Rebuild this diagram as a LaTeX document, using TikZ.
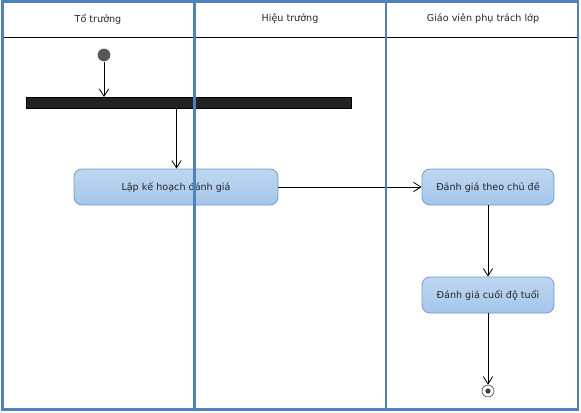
\documentclass[tikz,border=0pt]{standalone}
\usepackage{fontspec}
\setmainfont{DejaVu Sans}
\usetikzlibrary{arrows.meta}
\definecolor{lane}{RGB}{79,129,189}
\definecolor{actborder}{RGB}{109,155,208}
\definecolor{acttop}{RGB}{190,215,240}
\definecolor{actbot}{RGB}{165,198,233}
\definecolor{startc}{RGB}{88,88,88}
\definecolor{barc}{RGB}{34,34,34}
\begin{document}
\begin{tikzpicture}[x=0.75pt,y=-0.75pt,
  lanestyle/.style={draw=lane,line width=2.2pt},
  actbox/.style={draw=actborder,line width=0.6pt,rounded corners=6pt,top color=acttop,bottom color=actbot,minimum height=27pt,inner sep=0pt,font=\fontsize{7.2pt}{9pt}\selectfont,text=black!85},
  hdr/.style={font=\fontsize{7.2pt}{9pt}\selectfont,text=black!85},
  flow/.style={draw=black,line width=0.6pt,-{Straight Barb[length=5.5pt,width=7pt,line width=0.6pt]}},
  line/.style={draw=black,line width=0.6pt}]
\useasboundingbox (0,0) rectangle (581,412);
% header separator
\draw[line] (2,37) -- (578,37);
% header labels
\node[hdr] (h1) at (98,19) {Tổ trưởng};
\node[hdr] (h2) at (290,19) {Hiệu trưởng};
\node[hdr] (h3) at (483,19) {Giáo viên phụ trách lớp};
% start
\node[circle,fill=startc,minimum size=9.5pt,inner sep=0pt] (start) at (104,55) {};
% fork bar
\node[fill=barc,draw=black,line width=0.4pt,minimum width=243.75pt,minimum height=8pt,inner sep=0pt,anchor=north west] (bar) at (26,97) {};
\coordinate (barout) at (176.5,109);
% actions
\node[actbox,minimum width=153pt] (a1) at (176,187) {Lập kế hoạch đánh giá};
\node[actbox,minimum width=99pt] (a2) at (488,187) {Đánh giá theo chủ đề};
\node[actbox,minimum width=99pt] (a3) at (488,295) {Đánh giá cuối độ tuổi};
% end
\node[circle,draw=black!70,line width=0.5pt,minimum size=9pt,inner sep=0pt] (end) at (488,391) {};
\fill[black!75] (end.center) circle[radius=2.6];
% connectors
\draw[flow] (start) -- (start |- bar.north);
\draw[line] (barout) -- (barout |- bar.south);
\draw[flow] (barout) -- (barout |- a1.north);
\draw[flow] (a1.east) -- (a2.west);
\draw[flow] (a2) -- (a3);
\draw[flow] (a3) -- (end);
% lanes
\draw[lanestyle] (2.5,1.5) rectangle (578,409.5);
\draw[lanestyle] (194.3,1.5) -- (194.3,409.5);
\draw[lanestyle] (386,1.5) -- (386,409.5);
\end{tikzpicture}
\end{document}
